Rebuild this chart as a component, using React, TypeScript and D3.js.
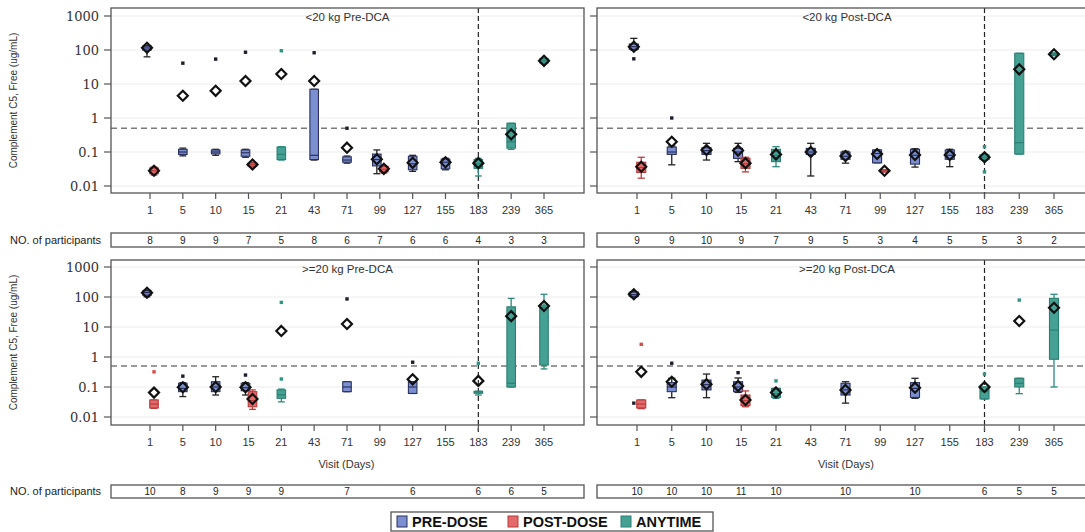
import React from "react";
import * as d3 from "d3";

// Visit days shown on every panel's x axis
const visits = ["1", "5", "10", "15", "21", "43", "71", "99", "127", "155", "183", "239", "365"];
const yTicks = [1000, 100, 10, 1, 0.1, 0.01];
const yTickLabels = ["1000", "100", "10", "1", "0.1", "0.01"];
const refLevel = 0.5;
const refVisit = "183";

type Grp = "PRE" | "POST" | "ANY";
// visit, group, low whisker, Q1, median, Q3, high whisker, mean, outliers
type Row = [string, Grp, number, number, number, number, number, number, number[]];

const lt20Pre: Row[] = [
  ["1", "PRE", 63, 100, 115, 130, 135, 117, []],
  ["1", "POST", 0.021, 0.023, 0.028, 0.034, 0.036, 0.028, []],
  ["5", "PRE", 0.077, 0.085, 0.1, 0.12, 0.13, 4.5, [41]],
  ["10", "PRE", 0.08, 0.088, 0.1, 0.115, 0.12, 6.3, [54]],
  ["15", "PRE", 0.07, 0.075, 0.095, 0.115, 0.12, 12.2, [86]],
  ["15", "POST", 0.036, 0.038, 0.043, 0.048, 0.05, 0.043, []],
  ["21", "ANY", 0.058, 0.06, 0.085, 0.14, 0.143, 19.7, [95]],
  ["43", "PRE", 0.058, 0.06, 0.08, 7.0, 7.0, 12.2, [83]],
  ["71", "PRE", 0.047, 0.05, 0.058, 0.072, 0.076, 0.134, [0.5]],
  ["99", "PRE", 0.023, 0.039, 0.06, 0.087, 0.115, 0.061, []],
  ["99", "POST", 0.024, 0.026, 0.031, 0.038, 0.039, 0.032, []],
  ["127", "PRE", 0.027, 0.03, 0.045, 0.075, 0.08, 0.048, []],
  ["155", "PRE", 0.03, 0.032, 0.05, 0.062, 0.065, 0.05, []],
  ["183", "ANY", 0.0197, 0.033, 0.045, 0.06, 0.065, 0.047, []],
  ["239", "ANY", 0.12, 0.13, 0.2, 0.7, 0.7, 0.33, []],
  ["365", "ANY", 40, 42, 48, 55, 57, 48, []],
];

const lt20Post: Row[] = [
  ["1", "PRE", 100, 105, 125, 150, 220, 125, [55]],
  ["1", "POST", 0.017, 0.025, 0.035, 0.05, 0.07, 0.037, []],
  ["5", "PRE", 0.042, 0.085, 0.1, 0.14, 0.15, 0.2, [1.0]],
  ["10", "PRE", 0.058, 0.085, 0.11, 0.134, 0.18, 0.115, []],
  ["15", "PRE", 0.052, 0.065, 0.1, 0.128, 0.18, 0.11, []],
  ["15", "POST", 0.026, 0.033, 0.045, 0.065, 0.07, 0.047, []],
  ["21", "ANY", 0.037, 0.052, 0.08, 0.12, 0.143, 0.085, []],
  ["43", "PRE", 0.0197, 0.085, 0.1, 0.128, 0.18, 0.1, []],
  ["71", "PRE", 0.047, 0.061, 0.075, 0.1, 0.105, 0.076, []],
  ["99", "PRE", 0.048, 0.048, 0.09, 0.115, 0.115, 0.087, []],
  ["99", "POST", 0.026, 0.026, 0.028, 0.03, 0.03, 0.028, []],
  ["127", "PRE", 0.036, 0.044, 0.08, 0.12, 0.125, 0.082, []],
  ["155", "PRE", 0.037, 0.061, 0.08, 0.115, 0.12, 0.082, []],
  ["183", "ANY", 0.058, 0.06, 0.07, 0.082, 0.085, 0.07, [0.143, 0.026]],
  ["239", "ANY", 0.087, 0.087, 0.188, 80, 80, 27, []],
  ["365", "ANY", 68, 70, 75, 80, 82, 75, []],
];

const ge20Pre: Row[] = [
  ["1", "PRE", 102, 115, 140, 160, 170, 139, []],
  ["1", "POST", 0.0194, 0.02, 0.027, 0.037, 0.037, 0.065, [0.32]],
  ["5", "PRE", 0.048, 0.07, 0.09, 0.133, 0.14, 0.098, [0.23]],
  ["10", "PRE", 0.054, 0.07, 0.1, 0.15, 0.22, 0.1, []],
  ["15", "PRE", 0.054, 0.075, 0.095, 0.133, 0.14, 0.098, [0.25]],
  ["15", "POST", 0.018, 0.022, 0.035, 0.07, 0.08, 0.04, []],
  ["21", "ANY", 0.032, 0.042, 0.055, 0.08, 0.085, 7.4, [66, 0.185]],
  ["71", "PRE", 0.07, 0.07, 0.1, 0.15, 0.15, 12.6, [86]],
  ["127", "PRE", 0.061, 0.061, 0.1, 0.15, 0.15, 0.18, [0.67]],
  ["183", "ANY", 0.054, 0.065, 0.068, 0.072, 0.072, 0.16, [0.62]],
  ["239", "ANY", 0.1, 0.1, 0.133, 47, 90, 23, []],
  ["365", "ANY", 0.4, 0.54, 45, 54, 123, 50, []],
];

const ge20Post: Row[] = [
  ["1", "PRE", 100, 105, 120, 145, 150, 123, [0.029]],
  ["1", "POST", 0.019, 0.02, 0.027, 0.037, 0.037, 0.32, [2.65]],
  ["5", "PRE", 0.044, 0.07, 0.1, 0.14, 0.195, 0.15, [0.62]],
  ["10", "PRE", 0.044, 0.08, 0.12, 0.17, 0.27, 0.123, []],
  ["15", "PRE", 0.066, 0.07, 0.1, 0.15, 0.2, 0.108, [0.3]],
  ["15", "POST", 0.022, 0.024, 0.035, 0.054, 0.074, 0.037, []],
  ["21", "ANY", 0.042, 0.045, 0.06, 0.09, 0.09, 0.066, [0.16]],
  ["71", "PRE", 0.029, 0.054, 0.08, 0.133, 0.15, 0.08, []],
  ["127", "PRE", 0.042, 0.045, 0.09, 0.14, 0.195, 0.095, []],
  ["183", "ANY", 0.04, 0.04, 0.07, 0.1, 0.1, 0.1, [0.27]],
  ["239", "ANY", 0.06, 0.1, 0.133, 0.195, 0.195, 15.8, [79]],
  ["365", "ANY", 0.1, 0.84, 7.9, 90, 123, 44, []],
];

// Number of participants per visit (null = no visit)
const nLt20Pre = [8, 9, 9, 7, 5, 8, 6, 7, 6, 6, 4, 3, 3];
const nLt20Post = [9, 9, 10, 9, 7, 9, 5, 3, 4, 5, 5, 3, 2];
const nGe20Pre = [10, 8, 9, 9, 9, null, 7, null, 6, null, 6, 6, 5];
const nGe20Post = [10, 10, 10, 11, 10, null, 10, null, 10, null, 6, 5, 5];

const legendGroups: Grp[] = ["PRE", "POST", "ANY"];
const legendNames = ["PRE-DOSE", "POST-DOSE", "ANYTIME"];

const fillC: Record<Grp, string> = { PRE: "#7c90d0", POST: "#e36a6a", ANY: "#44a193" };
const lineC: Record<Grp, string> = { PRE: "#2a3160", POST: "#b73a3a", ANY: "#2c7f73" };
const whiskC: Record<Grp, string> = { PRE: "#222222", POST: "#c23c3c", ANY: "#2c8a7c" };
const outC: Record<Grp, string> = { PRE: "#1d1d2e", POST: "#d94a4a", ANY: "#2f9485" };

const SANS = "'Liberation Sans', Arial, sans-serif";
const SERIF = "'DejaVu Serif', serif";

type Panel = {
  title: string;
  rows: Row[];
  counts: (number | null)[];
  left: number;
  right: number;
  xr: [number, number];
  top: number;
  bottom: number;
  yr: [number, number];
  isLeft: boolean;
  tableY: [number, number];
  xTitle: boolean;
};

const panels: Panel[] = [
  { title: "<20 kg Pre-DCA", rows: lt20Pre, counts: nLt20Pre, left: 111, right: 584, xr: [150, 544], top: 8, bottom: 193, yr: [186, 16], isLeft: true, tableY: [233, 247], xTitle: false },
  { title: "<20 kg Post-DCA", rows: lt20Post, counts: nLt20Post, left: 597, right: 1097, xr: [637, 1054], top: 8, bottom: 193, yr: [186, 16], isLeft: false, tableY: [233, 247], xTitle: false },
  { title: ">=20 kg Pre-DCA", rows: ge20Pre, counts: nGe20Pre, left: 111, right: 584, xr: [150, 544], top: 260, bottom: 425, yr: [417, 267], isLeft: true, tableY: [485, 498], xTitle: true },
  { title: ">=20 kg Post-DCA", rows: ge20Post, counts: nGe20Post, left: 597, right: 1097, xr: [637, 1054], top: 260, bottom: 425, yr: [417, 267], isLeft: false, tableY: [485, 498], xTitle: true },
];

function PanelView({ p, idx }: { p: Panel; idx: number }) {
  const x = d3.scalePoint<string>().domain(visits).range(p.xr);
  const y = d3.scaleLog().domain([0.01, 1000]).range(p.yr);
  const step = x.step();
  const bw = step * 0.26;
  const shift = step / 32.8;
  const both = (v: string) =>
    p.rows.some((r) => r[0] === v && r[1] === "PRE") && p.rows.some((r) => r[0] === v && r[1] === "POST");
  const cx = (r: Row) => {
    const base = x(r[0]) as number;
    if (both(r[0])) return base + (r[1] === "PRE" ? -3 * shift : r[1] === "POST" ? 4 * shift : 0);
    return base;
  };
  const clipId = `clip${idx}`;
  const cy = (p.top + p.bottom) / 2;
  const diamond = (d: number) => `M0,${-d}L${d},0L0,${d}L${-d},0Z`;
  return (
    <g>
      <defs>
        <clipPath id={clipId}>
          <rect x={p.left} y={p.top} width={p.right - p.left} height={p.bottom - p.top} />
        </clipPath>
      </defs>
      {/* grid */}
      {yTicks.map((t) => (
        <line key={"g" + t} x1={p.left} x2={p.right} y1={y(t)} y2={y(t)} stroke="#ececec" strokeWidth={1} />
      ))}
      {/* reference level */}
      <line x1={p.left} x2={p.right} y1={y(refLevel)} y2={y(refLevel)} stroke="#7a7a7a" strokeWidth={1.6} strokeDasharray="6,4" />
      {/* reference visit */}
      <line
        x1={x(refVisit)}
        x2={x(refVisit)}
        y1={p.top}
        y2={p.bottom + 7}
        stroke="#222"
        strokeWidth={1.2}
        strokeDasharray="5,3"
      />
      <g clipPath={`url(#${clipId})`}>
        {p.rows.map((r, i) => {
          const c = cx(r);
          const g = r[1];
          const cap = bw * 0.8;
          return (
            <g key={"b" + i}>
              <line x1={c} x2={c} y1={y(r[2])} y2={y(r[3])} stroke={whiskC[g]} strokeWidth={1.3} />
              <line x1={c} x2={c} y1={y(r[5])} y2={y(r[6])} stroke={whiskC[g]} strokeWidth={1.3} />
              <line x1={c - cap / 2} x2={c + cap / 2} y1={y(r[2])} y2={y(r[2])} stroke={whiskC[g]} strokeWidth={1.3} />
              <line x1={c - cap / 2} x2={c + cap / 2} y1={y(r[6])} y2={y(r[6])} stroke={whiskC[g]} strokeWidth={1.3} />
              <rect
                x={c - bw / 2}
                y={y(r[5])}
                width={bw}
                height={Math.max(2, y(r[3]) - y(r[5]))}
                fill={fillC[g]}
                stroke={lineC[g]}
                strokeWidth={1.1}
              />
              <line x1={c - bw / 2} x2={c + bw / 2} y1={y(r[4])} y2={y(r[4])} stroke={lineC[g]} strokeWidth={1.2} />
              {r[8].map((o, j) => (
                <rect key={j} x={c - 1.7} y={y(o) - 1.7} width={3.4} height={3.4} fill={outC[g]} />
              ))}
            </g>
          );
        })}
        {p.rows.map((r, i) => (
          <path
            key={"m" + i}
            d={diamond(5)}
            transform={`translate(${cx(r)},${y(r[7])})`}
            fill="none"
            stroke="#111"
            strokeWidth={2.2}
          />
        ))}
      </g>
      {/* frame */}
      <rect x={p.left} y={p.top} width={p.right - p.left} height={p.bottom - p.top} fill="none" stroke="#555" strokeWidth={1.3} />
      {/* title */}
      <text x={(p.left + p.right) / 2} y={p.top + 13} textAnchor="middle" fontFamily={SANS} fontSize={11.5} fill="#333">
        {p.title}
      </text>
      {/* y axis */}
      {yTicks.map((t, i) => (
        <g key={"yt" + t}>
          <line x1={p.left - 7} x2={p.left} y1={y(t)} y2={y(t)} stroke="#555" strokeWidth={1.2} />
          {p.isLeft && (
            <text x={p.left - 12} y={y(t)} dy="0.36em" textAnchor="end" fontFamily={SERIF} fontSize={13} fill="#333">
              {yTickLabels[i]}
            </text>
          )}
        </g>
      ))}
      {p.isLeft && (
        <text
          transform={`translate(17,${cy}) rotate(-90)`}
          textAnchor="middle"
          fontFamily={SANS}
          fontSize={10}
          fill="#333"
        >
          Complement C5, Free (ug/mL)
        </text>
      )}
      {/* x axis */}
      {visits.map((v) => (
        <g key={"xt" + v}>
          <line x1={x(v)} x2={x(v)} y1={p.bottom} y2={p.bottom + 6} stroke="#555" strokeWidth={1.2} />
          <text x={x(v)} y={p.bottom + 21} textAnchor="middle" fontFamily={SANS} fontSize={11} fill="#333">
            {v}
          </text>
        </g>
      ))}
      {p.xTitle && (
        <text x={(p.left + p.right) / 2 - 1} y={p.bottom + 43} textAnchor="middle" fontFamily={SANS} fontSize={11} fill="#333">
          Visit (Days)
        </text>
      )}
      {/* participants table */}
      <rect x={p.left} y={p.tableY[0]} width={p.right - p.left} height={p.tableY[1] - p.tableY[0]} fill="none" stroke="#555" strokeWidth={1.3} />
      {p.isLeft && (
        <text x={10} y={p.tableY[1] - 3.5} fontFamily={SANS} fontSize={11} fill="#222">
          NO. of participants
        </text>
      )}
      {p.counts.map((n, i) =>
        n === null ? null : (
          <text key={"n" + i} x={x(visits[i])} y={p.tableY[1] - 3.5} textAnchor="middle" fontFamily={SANS} fontSize={10} fill="#222">
            {n}
          </text>
        )
      )}
    </g>
  );
}

export default function App() {
  const legendX = [397, 508, 621];
  return (
    <svg
      width={1085}
      height={532}
      viewBox="0 0 1085 532"
      style={{ position: "fixed", left: 0, top: 0, background: "#fff" }}
    >
      <rect x={0} y={0} width={1085} height={532} fill="#fff" />
      {panels.map((p, i) => (
        <PanelView key={i} p={p} idx={i} />
      ))}
      <rect x={391} y={512} width={322} height={19} fill="#fff" stroke="#555" strokeWidth={1.3} />
      {legendGroups.map((g, i) => (
        <g key={g}>
          <rect x={legendX[i]} y={516} width={10} height={11} fill={fillC[g]} stroke={lineC[g]} strokeWidth={1} />
          <text x={legendX[i] + 15} y={526.5} fontFamily={SANS} fontWeight="bold" fontSize={14.5} fill="#111">
            {legendNames[i]}
          </text>
        </g>
      ))}
    </svg>
  );
}
